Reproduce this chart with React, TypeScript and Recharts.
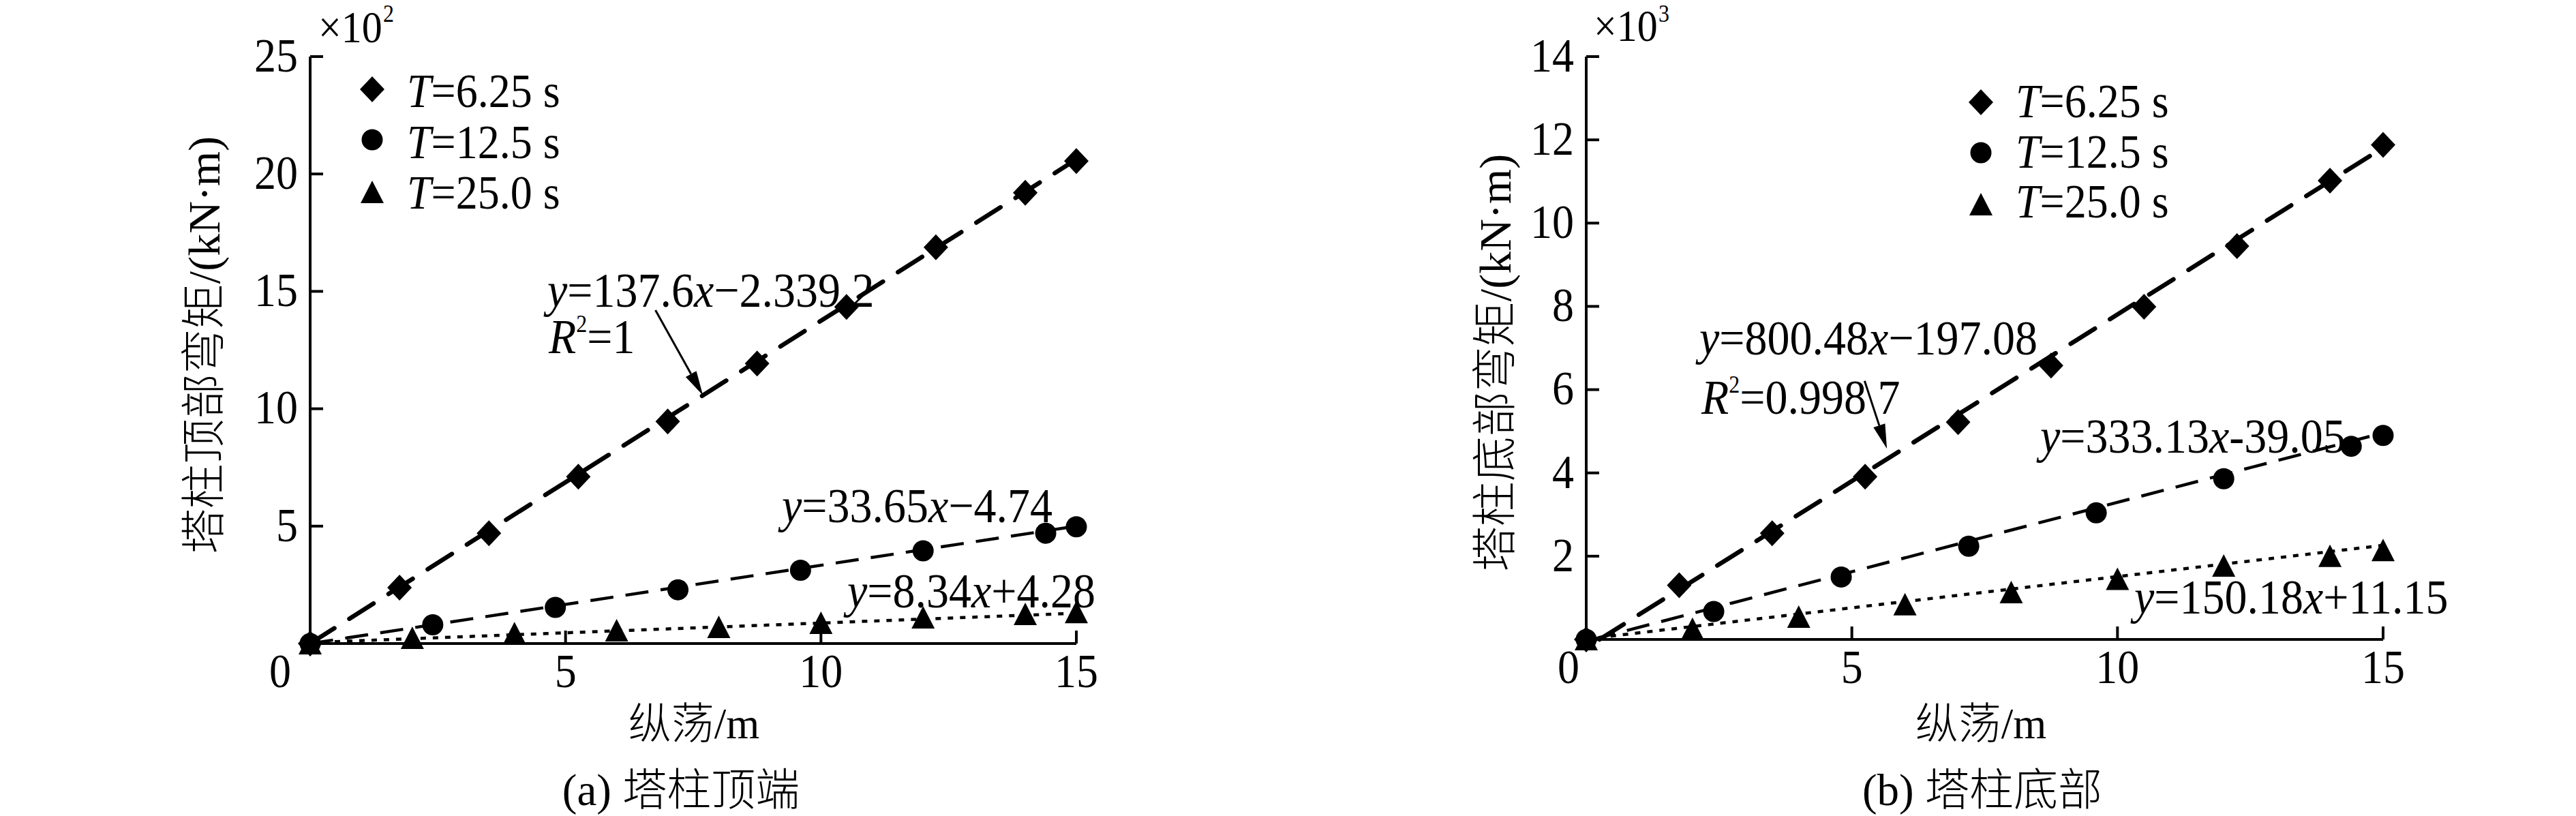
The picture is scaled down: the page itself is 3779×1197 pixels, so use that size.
import React from 'react';
import { ScatterChart, Scatter, XAxis, YAxis, ReferenceLine } from 'recharts';

const FONT = "'Liberation Serif', 'Noto Sans CJK SC', serif";
const SY = 1.1; // vertical stretch of the reference's Latin lettering

// ---------- data ----------
const xDiamond = [0, 1.75, 3.5, 5.25, 7.0, 8.75, 10.5, 12.25, 14.0, 15.0];
const xCircle = [0, 2.4, 4.8, 7.2, 9.6, 12.0, 14.4, 15.0];
const xTriangle = [0, 2, 4, 6, 8, 10, 12, 14, 15];

// (a) tower top, unit ×10^2 kN·m
const topDiamond = [0, 2.38, 4.7, 7.11, 9.46, 11.93, 14.34, 16.88, 19.2, 20.55];
const topCircle = [0, 0.8, 1.54, 2.29, 3.12, 3.95, 4.7, 4.97];
const topTriangle = [0, 0.23, 0.43, 0.55, 0.7, 0.87, 1.1, 1.25, 1.33];
const topFitDiamond = [[0, 0], [15, 20.62]];
const topFitCircle = [[0, 0], [15, 5.0]];
const topFitTriangle = [[0, 0.04], [15, 1.29]];
const topArrow = [[6.76, 14.2], [7.69, 10.57]];

// (b) tower bottom, unit ×10^3 kN·m
const botDiamond = [0, 1.3, 2.55, 3.91, 5.22, 6.58, 7.99, 9.45, 11.02, 11.88];
const botCircle = [0, 0.67, 1.5, 2.24, 3.04, 3.86, 4.64, 4.9];
const botTriangle = [0, 0.25, 0.54, 0.84, 1.13, 1.45, 1.77, 2.0, 2.14];
const botFitDiamond = [[0.25, 0], [15, 11.81]];
const botFitCircle = [[0.12, 0], [15, 4.96]];
const botFitTriangle = [[0, 0.01], [15, 2.26]];
const botArrow = [[5.24, 6.21], [5.66, 4.58]];

const xTicks = [0, 5, 10, 15];
const topYTicks = [5, 10, 15, 20, 25];
const botYTicks = [2, 4, 6, 8, 10, 12, 14];
const legendLabels = ['=6.25 s', '=12.5 s', '=25.0 s'];

const zip = (xs: number[], ys: number[]) => ys.map((y, i) => ({ x: xs[i], y }));
const pts = (p: number[][]) => p.map(([x, y]) => ({ x, y }));

// ---------- shapes ----------
const TS = 8;
const TM = 10;
const TICK_LEN = 19;

const Diamond = ({ cx, cy }: any) => (
  <polygon points={`${cx},${cy - 19} ${cx + 18},${cy} ${cx},${cy + 19} ${cx - 18},${cy}`} fill="#000" />
);
const Dot = ({ cx, cy }: any) => <circle cx={cx} cy={cy} r={15.5} fill="#000" />;
const Tri = ({ cx, cy }: any) => (
  <polygon points={`${cx},${cy - 17} ${cx + 17},${cy + 16} ${cx - 17},${cy + 16}`} fill="#000" />
);
const Empty = () => <g />;

const Arrow = (p: any) => {
  const { x1, y1, x2, y2 } = p;
  const dx = x2 - x1;
  const dy = y2 - y1;
  const L = Math.hypot(dx, dy) || 1;
  const ux = dx / L;
  const uy = dy / L;
  const hl = 36;
  const hw = 9;
  const bx = x2 - ux * hl;
  const by = y2 - uy * hl;
  return (
    <g>
      <line x1={x1} y1={y1} x2={bx} y2={by} stroke="#000" strokeWidth={3} />
      <polygon points={`${x2},${y2} ${bx - uy * hw},${by + ux * hw} ${bx + uy * hw},${by - ux * hw}`} fill="#000" />
    </g>
  );
};

// text stretched vertically about its baseline point
const T = ({ x, y, size, anchor, dy, children }: any) => (
  <text
    transform={`translate(${x},${y}) scale(1,${SY})`}
    x={0}
    y={0}
    dy={dy}
    textAnchor={anchor || 'start'}
    fontFamily={FONT}
    fontSize={size}
    fill="#000"
  >
    {children}
  </text>
);

const makeYTick = () => (props: any) => {
  const { x, y, payload } = props;
  const ax = x + TS + TM;
  return (
    <g>
      <line x1={ax} x2={ax + TICK_LEN} y1={y} y2={y} stroke="#000" strokeWidth={4} />
      <T x={x} y={y} dy="0.31em" anchor="end" size={64}>
        {payload.value}
      </T>
    </g>
  );
};

const makeXTick = (zeroDx: number) => (props: any) => {
  const { x, y, payload } = props;
  const ay = y - TS - TM;
  const isZero = payload.value === 0;
  return (
    <g>
      {!isZero && <line x1={x} x2={x} y1={ay} y2={ay - TICK_LEN} stroke="#000" strokeWidth={4} />}
      <T x={x + (isZero ? zeroDx : 0)} y={y} dy="0.66em" anchor="middle" size={64}>
        {payload.value}
      </T>
    </g>
  );
};

type PanelProps = {
  left: number;
  width: number;
  margin: { top: number; right: number; bottom: number; left: number };
  yDomain: [number, number];
  yTicks: number[];
  diamond: number[];
  circle: number[];
  triangle: number[];
  fitD: number[][];
  fitC: number[][];
  fitT: number[][];
  arrow: number[][];
  zeroDx: number;
};

const Panel = (p: PanelProps) => (
  <div style={{ position: 'absolute', left: p.left, top: 0, width: p.width, height: 1197 }}>
    <ScatterChart width={p.width} height={1197} margin={p.margin}>
      <XAxis
        type="number"
        dataKey="x"
        domain={[0, 15]}
        ticks={xTicks}
        interval={0}
        height={100}
        tickSize={TS}
        tickMargin={TM}
        tickLine={false}
        axisLine={{ stroke: '#000', strokeWidth: 4 }}
        tick={makeXTick(p.zeroDx)}
      />
      <YAxis
        type="number"
        dataKey="y"
        domain={p.yDomain}
        ticks={p.yTicks}
        interval={0}
        width={100}
        tickSize={TS}
        tickMargin={TM}
        tickLine={false}
        axisLine={{ stroke: '#000', strokeWidth: 4 }}
        tick={makeYTick()}
      />
      <Scatter
        data={pts(p.fitT)}
        shape={Empty}
        line={{ stroke: '#000', strokeWidth: 4.5, strokeDasharray: '8 10' }}
        isAnimationActive={false}
      />
      <Scatter
        data={pts(p.fitC)}
        shape={Empty}
        line={{ stroke: '#000', strokeWidth: 4.5, strokeDasharray: '34 18' }}
        isAnimationActive={false}
      />
      <Scatter
        data={pts(p.fitD)}
        shape={Empty}
        line={{ stroke: '#000', strokeWidth: 6.5, strokeDasharray: '42 26', strokeLinecap: 'round' }}
        isAnimationActive={false}
      />
      <Scatter data={zip(xTriangle, p.triangle)} shape={Tri} isAnimationActive={false} />
      <Scatter data={zip(xCircle, p.circle)} shape={Dot} isAnimationActive={false} />
      <Scatter data={zip(xDiamond, p.diamond)} shape={Diamond} isAnimationActive={false} />
      <ReferenceLine segment={pts(p.arrow)} shape={Arrow} ifOverflow="visible" />
    </ScatterChart>
  </div>
);

const I = ({ children }: any) => <tspan fontStyle="italic">{children}</tspan>;

const Legend = ({ mx, my, tx, ty }: { mx: number; my: number[]; tx: number; ty: number[] }) => (
  <g>
    <Diamond cx={mx} cy={my[0]} />
    <Dot cx={mx} cy={my[1]} />
    <Tri cx={mx} cy={my[2]} />
    {legendLabels.map((l, i) => (
      <T key={l} x={tx} y={ty[i]} size={64}>
        <I>T</I>
        {l}
      </T>
    ))}
  </g>
);

const Overlay = () => (
  <svg
    width={3779}
    height={1197}
    style={{ position: 'absolute', left: 0, top: 0, pointerEvents: 'none' }}
  >
    {/* ---------- panel (a) ---------- */}
    <T x={467} y={62} size={60}>×10</T>
    <T x={562} y={32} size={32}>2</T>
    <Legend mx={546} my={[131, 205, 282]} tx={597} ty={[157, 232, 306]} />
    <T x={803} y={450} size={66}>
      <I>y</I>=137.6<I>x</I>−2.339 2
    </T>
    <T x={805} y={518} size={66}>
      <I>R</I>
      <tspan dy={-28} fontSize={32}>2</tspan>
      <tspan dy={28}>=1</tspan>
    </T>
    <T x={1147} y={766} size={66}>
      <I>y</I>=33.65<I>x</I>−4.74
    </T>
    <T x={1243} y={891} size={66}>
      <I>y</I>=8.34<I>x</I>+4.28
    </T>
    <text
      x={0}
      y={0}
      transform="translate(298,506) rotate(-90)"
      textAnchor="middle"
      dy="0.36em"
      fontFamily={FONT}
      fontSize={66}
      fontWeight={300}
      fill="#000"
    >
      塔柱顶部弯矩/(kN·m)
    </text>
    <text x={1018} y={1083} textAnchor="middle" fontFamily={FONT} fontSize={63} fontWeight={300} fill="#000">
      纵荡/m
    </text>
    <text x={999} y={1181} textAnchor="middle" fontFamily={FONT} fontSize={65} fontWeight={300} fill="#000">
      (a) 塔柱顶端
    </text>

    {/* ---------- panel (b) ---------- */}
    <T x={2338} y={60} size={60}>×10</T>
    <T x={2433} y={32} size={32}>3</T>
    <Legend mx={2906} my={[150, 224, 300]} tx={2957} ty={[172, 246, 319]} />
    <T x={2493} y={520} size={66}>
      <I>y</I>=800.48<I>x</I>−197.08
    </T>
    <T x={2496} y={607} size={66}>
      <I>R</I>
      <tspan dy={-28} fontSize={32}>2</tspan>
      <tspan dy={28}>=0.998 7</tspan>
    </T>
    <T x={2993} y={664} size={66}>
      <I>y</I>=333.13<I>x</I>-39.05
    </T>
    <T x={3131} y={900} size={66}>
      <I>y</I>=150.18<I>x</I>+11.15
    </T>
    <text
      x={0}
      y={0}
      transform="translate(2192,532) rotate(-90)"
      textAnchor="middle"
      dy="0.36em"
      fontFamily={FONT}
      fontSize={66}
      fontWeight={300}
      fill="#000"
    >
      塔柱底部弯矩/(kN·m)
    </text>
    <text x={2906} y={1083} textAnchor="middle" fontFamily={FONT} fontSize={63} fontWeight={300} fill="#000">
      纵荡/m
    </text>
    <text x={2908} y={1181} textAnchor="middle" fontFamily={FONT} fontSize={65} fontWeight={300} fill="#000">
      (b) 塔柱底部
    </text>
  </svg>
);

export default function App() {
  return (
    <div style={{ position: 'absolute', left: 0, top: 0, width: 3779, height: 1197, background: '#fff' }}>
      <Panel
        left={0}
        width={1800}
        margin={{ top: 83, right: 221, bottom: 153, left: 355 }}
        yDomain={[0, 25]}
        yTicks={topYTicks}
        diamond={topDiamond}
        circle={topCircle}
        triangle={topTriangle}
        fitD={topFitDiamond}
        fitC={topFitCircle}
        fitT={topFitTriangle}
        arrow={topArrow}
        zeroDx={-44}
      />
      <Panel
        left={1890}
        width={1889}
        margin={{ top: 83, right: 283, bottom: 159, left: 337 }}
        yDomain={[0, 14]}
        yTicks={botYTicks}
        diamond={botDiamond}
        circle={botCircle}
        triangle={botTriangle}
        fitD={botFitDiamond}
        fitC={botFitCircle}
        fitT={botFitTriangle}
        arrow={botArrow}
        zeroDx={-26}
      />
      <Overlay />
    </div>
  );
}
